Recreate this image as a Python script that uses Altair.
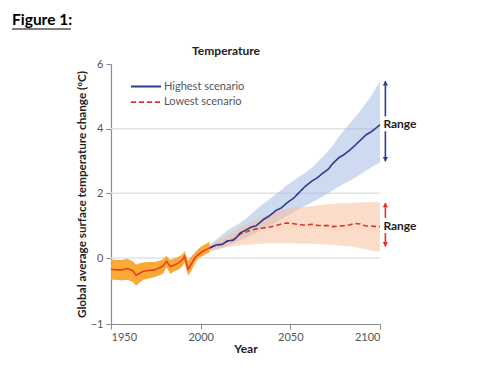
import altair as alt
import pandas as pd

# ---------------- data ----------------
hist_years = [1950, 1953, 1956, 1959, 1962, 1964, 1966, 1968, 1971, 1974, 1977, 1979, 1981,
              1983, 1985, 1988, 1990, 1991, 1993, 1995, 1997, 1999, 2001, 2003, 2005]
hist_mean = [-0.17, -0.18, -0.18, -0.16, -0.19, -0.26, -0.23, -0.20, -0.19, -0.18, -0.15, -0.12, -0.05,
             -0.13, -0.11, -0.07, -0.02, 0.05, -0.17, -0.08, 0.02, 0.12, 0.20, 0.26, 0.31]
hist_high = [-0.02, -0.03, -0.03, -0.01, -0.05, -0.10, -0.08, -0.07, -0.06, -0.06, -0.04, -0.02, 0.06,
             -0.03, -0.01, 0.05, 0.12, 0.22, -0.04, 0.06, 0.18, 0.30, 0.38, 0.44, 0.50]
hist_low = [-0.33, -0.33, -0.34, -0.33, -0.36, -0.42, -0.37, -0.33, -0.31, -0.29, -0.26, -0.24, -0.14,
            -0.24, -0.21, -0.17, -0.12, -0.07, -0.27, -0.18, -0.07, 0.00, 0.06, 0.12, 0.18]

proj_years = [2005, 2009, 2012, 2015, 2018, 2020, 2022, 2025, 2028, 2031, 2035, 2038, 2042, 2045,
              2048, 2052, 2055, 2058, 2062, 2065, 2068, 2071, 2074, 2077, 2080, 2083, 2086, 2089,
              2092, 2095, 2098, 2100]
high_mean = [0.31, 0.41, 0.42, 0.53, 0.55, 0.64, 0.77, 0.86, 0.95, 1.00, 1.19, 1.29, 1.47, 1.55,
             1.70, 1.86, 2.03, 2.20, 2.38, 2.48, 2.62, 2.74, 2.94, 3.10, 3.20, 3.33, 3.48, 3.64,
             3.80, 3.90, 4.03, 4.12]
high_up = [0.40, 0.58, 0.72, 0.85, 0.96, 1.02, 1.08, 1.20, 1.35, 1.50, 1.68, 1.80, 1.98, 2.10,
           2.25, 2.40, 2.52, 2.62, 2.78, 2.95, 3.12, 3.30, 3.50, 3.74, 3.95, 4.15, 4.35, 4.55,
           4.78, 5.00, 5.28, 5.47]
high_low = [0.22, 0.28, 0.32, 0.38, 0.45, 0.50, 0.55, 0.62, 0.70, 0.78, 0.90, 0.98, 1.10, 1.20,
            1.30, 1.42, 1.52, 1.60, 1.72, 1.80, 1.90, 2.00, 2.10, 2.20, 2.30, 2.38, 2.48, 2.58,
            2.70, 2.80, 2.90, 2.95]
low_mean = [0.31, 0.41, 0.42, 0.53, 0.55, 0.64, 0.74, 0.80, 0.86, 0.90, 0.93, 0.95, 1.00, 1.05,
            1.08, 1.06, 1.03, 1.02, 1.04, 1.01, 1.00, 1.00, 0.97, 0.99, 1.00, 1.02, 1.07, 1.05,
            0.99, 0.99, 0.97, 0.97]
low_up = [0.39, 0.52, 0.60, 0.69, 0.80, 0.88, 0.95, 1.02, 1.10, 1.18, 1.27, 1.33, 1.42, 1.48,
          1.52, 1.56, 1.58, 1.58, 1.60, 1.62, 1.65, 1.66, 1.67, 1.70, 1.70, 1.69, 1.71, 1.72,
          1.72, 1.73, 1.72, 1.72]
low_low = [0.20, 0.25, 0.30, 0.34, 0.36, 0.38, 0.40, 0.41, 0.42, 0.43, 0.45, 0.46, 0.46, 0.46,
           0.46, 0.46, 0.45, 0.45, 0.44, 0.43, 0.42, 0.41, 0.40, 0.39, 0.37, 0.36, 0.34, 0.30,
           0.26, 0.23, 0.21, 0.20]

scenario_names = ["Highest scenario", "Lowest scenario"]
grid_values = [0, 2, 4]
y_ticks = [-1, 0, 2, 4, 6]
x_ticks = [1950, 2000, 2050, 2100]

# range arrows (value at tip / segment ends) and labels
arrow_x = [2103, 2103]
arrow_top = [5.47, 1.70]
arrow_gap_top = [4.38, 1.24]
arrow_gap_bottom = [3.92, 0.77]
arrow_bottom = [2.99, 0.36]
arrow_label_y = [4.13, 0.98]
arrow_colors = ["#2e3b8f", "#e0302b"]
range_label = "Range"

# ---------------- tables ----------------
hist_df = pd.DataFrame({"year": hist_years, "mean": hist_mean, "lo": hist_low, "hi": hist_high})
high_df = pd.DataFrame({"year": proj_years, "mean": high_mean, "lo": high_low, "hi": high_up,
                        "scenario": scenario_names[0]})
low_df = pd.DataFrame({"year": proj_years, "mean": low_mean, "lo": low_low, "hi": low_up,
                       "scenario": scenario_names[1]})
grid_df = pd.DataFrame({"v": grid_values})
arrow_df = pd.DataFrame({"year": arrow_x, "top": arrow_top, "gt": arrow_gap_top,
                         "gb": arrow_gap_bottom, "bottom": arrow_bottom,
                         "ly": arrow_label_y, "col": arrow_colors, "label": range_label})

FONT = "Lato"
W, H = 269, 260

x_scale = alt.Scale(domain=[1950, 2100], nice=False, zero=False)
y_scale = alt.Scale(domain=[-1, 0, 6], range=[H, 194, 0], nice=False, zero=False)

x_axis = alt.Axis(values=x_ticks, format="d", title="Year", grid=False,
                  domainColor="#8a8a8a", tickColor="#8a8a8a", tickSize=5, domainWidth=1.2,
                  labelColor="#555555", labelFont=FONT, labelFontSize=11, labelPadding=2,
                  titleFont=FONT, titleFontSize=12, titleFontWeight="bold", titleColor="#222222",
                  titlePadding=1)
y_axis = alt.Axis(values=y_ticks, format="d",
                  title="Global average surface temperature change (°C)", grid=False,
                  domainColor="#8a8a8a", tickColor="#8a8a8a", tickSize=5, domainWidth=1.2,
                  labelColor="#555555", labelFont=FONT, labelFontSize=11, labelPadding=3,
                  titleFont=FONT, titleFontSize=11.7, titleFontWeight="bold", titleColor="#222222",
                  titlePadding=3)


def X(field="year"):
    return alt.X(f"{field}:Q", scale=x_scale, axis=x_axis)


def Y(field):
    return alt.Y(f"{field}:Q", scale=y_scale, axis=y_axis)


legend = alt.Legend(title=None, orient="none", legendX=19, legendY=16.5, symbolType="stroke",
                    symbolSize=900, symbolStrokeWidth=1.8, labelFont=FONT, labelFontSize=11,
                    labelColor="#555555", clipHeight=12, rowPadding=3.6, labelOffset=2)
color_enc = alt.Color("scenario:N", scale=alt.Scale(domain=scenario_names,
                                                     range=["#2e3b8f", "#e0302b"]), legend=legend)
dash_enc = alt.StrokeDash("scenario:N", scale=alt.Scale(domain=scenario_names,
                                                         range=[[1, 0], [5, 3]]), legend=legend)

grid = alt.Chart(grid_df).mark_rule(color="#e2e2e2", strokeWidth=1.5).encode(
    y=Y("v"), x=alt.value(0), x2=alt.value(W))

blue_band = alt.Chart(high_df).mark_area(color="#9bb5e1", opacity=0.5).encode(
    x=X(), y=Y("lo"), y2="hi:Q")
peach_band = alt.Chart(low_df).mark_area(color="#f7b991", opacity=0.5).encode(
    x=X(), y=Y("lo"), y2="hi:Q")
orange_band = alt.Chart(hist_df).mark_area(color="#f9a52b", opacity=0.95).encode(
    x=X(), y=Y("lo"), y2="hi:Q")
hist_line = alt.Chart(hist_df).mark_line(color="#e8411e", strokeWidth=1.6).encode(
    x=X(), y=Y("mean"))
low_line = alt.Chart(low_df).mark_line(strokeWidth=1.6).encode(
    x=X(), y=Y("mean"), color=color_enc, strokeDash=dash_enc)
high_line = alt.Chart(high_df).mark_line(strokeWidth=1.6).encode(
    x=X(), y=Y("mean"), color=color_enc, strokeDash=dash_enc)

arrow_base = alt.Chart(arrow_df)
seg_top = arrow_base.mark_rule(strokeWidth=1.6).encode(
    x=X(), y=Y("top"), y2="gt:Q", color=alt.Color("col:N", scale=None))
seg_bottom = arrow_base.mark_rule(strokeWidth=1.6).encode(
    x=X(), y=Y("gb"), y2="bottom:Q", color=alt.Color("col:N", scale=None))
head_top = arrow_base.mark_point(shape="triangle-up", size=28, filled=True, opacity=1,
                                 yOffset=2).encode(
    x=X(), y=Y("top"), color=alt.Color("col:N", scale=None))
head_bottom = arrow_base.mark_point(shape="triangle-down", size=28, filled=True, opacity=1,
                                    yOffset=-2).encode(
    x=X(), y=Y("bottom"), color=alt.Color("col:N", scale=None))
range_text = arrow_base.mark_text(align="left", baseline="middle", font=FONT, fontSize=12,
                                  fontWeight="bold", color="#222222", dx=-2).encode(
    x=X(), y=Y("ly"), text="label:N")

fig_title = alt.Chart(pd.DataFrame({"t": ["Figure 1:"]})).mark_text(
    align="left", baseline="alphabetic", font=FONT, fontSize=15.5, fontWeight="bold",
    color="#000000").encode(text="t:N", x=alt.value(-99), y=alt.value(-39))
fig_underline = alt.Chart(pd.DataFrame({"t": ["u"]})).mark_rule(
    color="#000000", strokeWidth=1.2).encode(x=alt.value(-99), x2=alt.value(-40), y=alt.value(-35))
panel_title = alt.Chart(pd.DataFrame({"t": ["Temperature"]})).mark_text(
    align="center", baseline="alphabetic", font=FONT, fontSize=12, fontWeight="bold",
    color="#222222").encode(text="t:N", x=alt.value(115), y=alt.value(-9))

chart = alt.layer(
    grid, blue_band, peach_band, orange_band, hist_line, low_line, high_line,
    seg_top, seg_bottom, head_top, head_bottom, range_text,
    fig_title, fig_underline, panel_title
).properties(
    width=W, height=H,
    autosize=alt.AutoSizeParams(type="none"),
    padding={"left": 111, "top": 64, "right": 120, "bottom": 51},
).configure_view(stroke=None)

chart.save("out.html", embed_options={"renderer": "svg", "actions": False})
